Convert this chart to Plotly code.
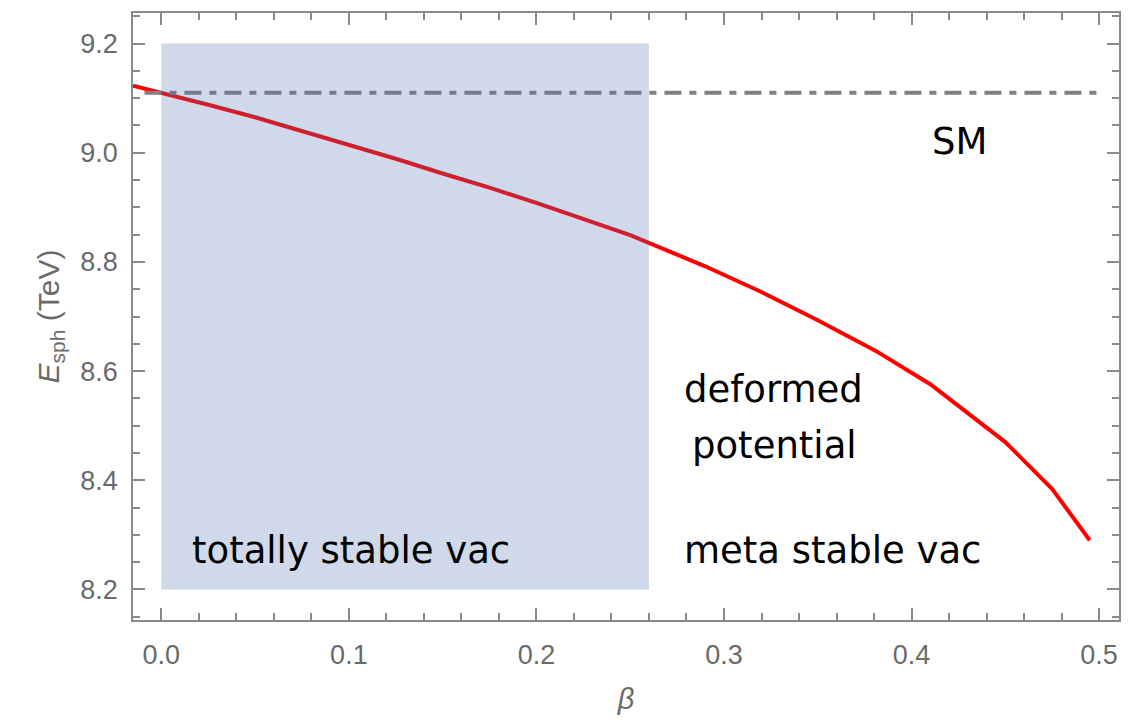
import plotly.graph_objects as go

# Sphaleron energy versus deformation parameter beta
beta = [-0.0151, 0.0, 0.025, 0.05, 0.075, 0.1, 0.125, 0.15, 0.175, 0.2,
        0.225, 0.25, 0.29, 0.32, 0.349, 0.381, 0.41, 0.45, 0.475, 0.495]
e_sph = [9.123, 9.110, 9.088, 9.065, 9.040, 9.015, 8.989, 8.962, 8.936, 8.908,
         8.879, 8.849, 8.792, 8.745, 8.695, 8.637, 8.576, 8.470, 8.384, 8.290]

# Standard Model reference value
sm_beta = [-0.009, 0.5]
sm_value = [9.11, 9.11]

# Totally stable vacuum region
stable_beta = [0.0, 0.26]
stable_e = [8.2, 9.2]

x_range = [-0.0151, 0.5106]
y_range = [8.144, 9.256]

axis_grey = "#8a8a8a"
label_grey = "#6a6a6a"
note_font = "DejaVu Sans"

fig = go.Figure()

fig.add_trace(go.Scatter(
    x=beta, y=e_sph, mode="lines",
    line=dict(color="#ff0000", width=4),
    showlegend=False, hoverinfo="skip",
))

fig.add_trace(go.Scatter(
    x=sm_beta, y=sm_value, mode="lines",
    line=dict(color="#808080", width=4, dash="17px,8px,7px,8px"),
    showlegend=False, hoverinfo="skip",
))

fig.add_shape(
    type="rect", xref="x", yref="y",
    x0=stable_beta[0], x1=stable_beta[1], y0=stable_e[0], y1=stable_e[1],
    fillcolor="rgb(80,116,175)", opacity=0.275, line=dict(width=0),
    layer="above",
)

notes = [
    ("totally stable vac", 0.0152, 8.272, "left"),
    ("meta stable vac", 0.2775, 8.272, "left"),
    ("deformed", 0.2775, 8.566, "left"),
    ("potential", 0.2818, 8.464, "left"),
    ("SM", 0.4258, 9.020, "center"),
]
for text, xv, yv, anchor in notes:
    fig.add_annotation(
        x=xv, y=yv, xref="x", yref="y", text=text, showarrow=False,
        xanchor=anchor, yanchor="middle",
        font=dict(family=note_font, size=37, color="black"),
    )

axis_common = dict(
    showline=True, linecolor=axis_grey, linewidth=1.5, mirror="ticks",
    ticks="inside", tickcolor=axis_grey, tickwidth=1.5, ticklen=12,
    showgrid=False, zeroline=False,
    tickfont=dict(family="Liberation Sans, Arial", size=27, color=label_grey),
)

fig.update_xaxes(
    range=x_range, tick0=0, dtick=0.1, tickformat=".1f",
    ticklabelstandoff=10,
    minor=dict(ticks="inside", dtick=0.02, tick0=0, ticklen=7,
               tickcolor=axis_grey, tickwidth=1.5, showgrid=False),
    title=dict(text="<i>β</i>", standoff=20,
               font=dict(family="Liberation Sans, Arial", size=29, color=label_grey)),
    **axis_common,
)
fig.update_yaxes(
    range=y_range, tick0=8.2, dtick=0.2, tickformat=".1f",
    ticklabelstandoff=8,
    minor=dict(ticks="inside", dtick=0.05, tick0=8.2, ticklen=7,
               tickcolor=axis_grey, tickwidth=1.5, showgrid=False),
    title=dict(text="<i>E</i><sub>sph</sub> (TeV)", standoff=12,
               font=dict(family="Liberation Sans, Arial", size=30, color=label_grey)),
    **axis_common,
)

fig.update_layout(
    width=1148, height=725,
    margin=dict(l=133, r=29, t=11, b=105),
    plot_bgcolor="white", paper_bgcolor="white",
)

fig.write_html("out.html")
